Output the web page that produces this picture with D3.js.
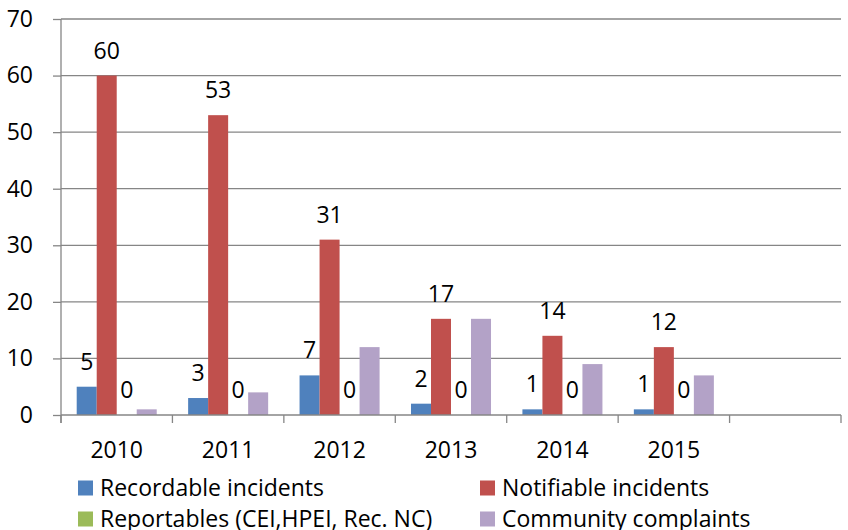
<!DOCTYPE html>
<html>
<head>
<meta charset="utf-8">
<script src="https://cdn.jsdelivr.net/npm/d3@7"></script>
<style>
  body { margin: 0; background: #fff; }
  text { font-family: "Open Sans", sans-serif; fill: #000; }
</style>
</head>
<body>
<svg id="chart"></svg>
<script>
const years = ["2010", "2011", "2012", "2013", "2014", "2015", ""];
const seriesNames = ["Recordable incidents", "Notifiable incidents", "Reportables (CEI,HPEI, Rec. NC)", "Community complaints"];
const recordable = [5, 3, 7, 2, 1, 1];
const notifiable = [60, 53, 31, 17, 14, 12];
const reportables = [0, 0, 0, 0, 0, 0];
const community = [1, 4, 12, 17, 9, 7];
const colors = ["#4F81BD", "#C0504D", "#9BBB59", "#B3A2C7"];
const labelled = [true, true, true, false];
const yTicks = [0, 10, 20, 30, 40, 50, 60, 70];

const width = 848, height = 530;
const margin = {top: 19, right: 7, bottom: 115, left: 61};
const innerW = width - margin.left - margin.right;
const innerH = height - margin.top - margin.bottom;
const fontSize = 23;

const svg = d3.select('#chart').attr('width', width).attr('height', height);
const g = svg.append('g').attr('transform', `translate(${margin.left},${margin.top})`);

const allSeries = [recordable, notifiable, reportables, community];

// scales
const x = d3.scaleBand().domain(d3.range(years.length)).range([0, innerW]).paddingInner(0).paddingOuter(0);
const x1 = d3.scaleBand().domain(d3.range(allSeries.length)).range([0, x.bandwidth()]).paddingOuter(0.785).paddingInner(0);
const y = d3.scaleLinear().domain([0, 70]).range([innerH, 0]);

// gridlines
g.append('g').selectAll('line').data(yTicks.slice(1)).join('line')
  .attr('x1', 0).attr('x2', innerW)
  .attr('y1', (d) => y(d)).attr('y2', (d) => y(d))
  .attr('stroke', '#868686').attr('stroke-width', 1.3);

// bars
const groups = g.append('g').selectAll('g').data(allSeries).join('g')
  .attr('fill', (d, i) => colors[i]);
groups.selectAll('rect').data((s, i) => s.map((v, j) => ({v, j, i}))).join('rect')
  .attr('x', (d) => x(d.j) + x1(d.i))
  .attr('width', x1.bandwidth())
  .attr('y', (d) => y(d.v))
  .attr('height', (d) => innerH - y(d.v));

// data labels (not on community complaints)
const labels = g.append('g');
allSeries.forEach((s, i) => {
  if (!labelled[i]) return;
  labels.selectAll(null).data(s).join('text')
    .attr('x', (d, j) => x(j) + x1(i) + x1.bandwidth() / 2)
    .attr('y', (d) => y(d) - 17)
    .attr('text-anchor', 'middle')
    .attr('font-size', fontSize)
    .text((d) => d);
});

// y axis
const yaxis = d3.axisLeft(y).tickValues(yTicks).tickSize(8).tickPadding(20);
const gy = g.append('g').call(yaxis);
gy.select('.domain').attr('stroke', '#868686').attr('stroke-width', 1.3).attr('d', `M0,0V${innerH + 8}`);
gy.selectAll('.tick line').attr('stroke', '#868686').attr('stroke-width', 1.3);
gy.selectAll('.tick text').attr('font-size', fontSize).attr('font-family', '"Open Sans", sans-serif').attr('fill', '#000');

// x axis
const xaxis = d3.axisBottom(x).tickFormat((i) => years[i]).tickSize(0).tickPadding(27);
const gx = g.append('g').attr('transform', `translate(0,${innerH})`).call(xaxis);
gx.select('.domain').attr('stroke', '#868686').attr('stroke-width', 1.3).attr('d', `M0,0H${innerW}`);
gx.selectAll('.tick text').attr('font-size', fontSize).attr('font-family', '"Open Sans", sans-serif').attr('fill', '#000');
gx.selectAll('.sep').data(d3.range(years.length + 1)).join('line')
  .attr('x1', (d) => d * x.bandwidth()).attr('x2', (d) => d * x.bandwidth())
  .attr('y1', 0).attr('y2', 8)
  .attr('stroke', '#868686').attr('stroke-width', 1.3);

// legend, two columns
const legendPos = [[78, 480.5], [480, 480.5], [78, 511.5], [480, 511.5]];
const legend = svg.append('g').selectAll('g').data(seriesNames).join('g')
  .attr('transform', (d, i) => `translate(${legendPos[i][0]},${legendPos[i][1]})`);
legend.append('rect').attr('width', 15).attr('height', 15).attr('fill', (d, i) => colors[i]);
legend.append('text').attr('x', 22).attr('y', 7.5).attr('dy', '0.35em').attr('font-size', fontSize).text((d) => d);
</script>
</body>
</html>
